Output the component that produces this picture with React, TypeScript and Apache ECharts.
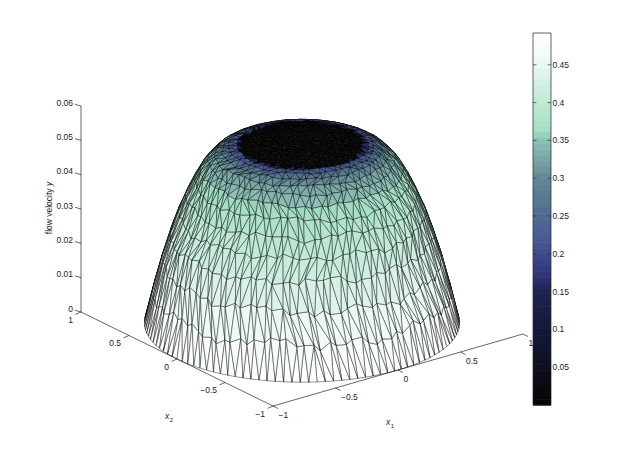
import React, { useEffect, useRef } from "react";
import * as echarts from "echarts";

const ringRadius = [1, 0.945, 0.89, 0.835, 0.785, 0.735, 0.685, 0.64, 0.595, 0.55, 0.505, 0.46, 0.415, 0.37, 0.32, 0.26, 0.2, 0.14, 0.08, 0];
const ringHeight = [0, 0.0098, 0.0186, 0.0262, 0.0322, 0.0372, 0.0416, 0.045, 0.0475, 0.0494, 0.0506, 0.0514, 0.0518, 0.0518, 0.0518, 0.0518, 0.0518, 0.0518, 0.0518, 0.0518];
const ringValue = [0.492, 0.468, 0.444, 0.425, 0.408, 0.39, 0.372, 0.355, 0.338, 0.318, 0.29, 0.235, 0.215, 0.003, 0.003, 0.003, 0.003, 0.003, 0.003, 0.003];
const ringNodes = [118, 112, 105, 99, 93, 87, 81, 76, 70, 65, 60, 54, 49, 44, 38, 31, 24, 16, 9, 1];
const capRadius = 0.4;
const radialWobble = [0.4, -0.7, 0.9, 0.1, -0.5, 0.8, -1, 0.3, 0.6, -0.2, -0.9, 0.5, 1, -0.4, 0.2, -0.8, 0.7, -0.1, -0.6, 0.9, 0.2, -1, 0.5, -0.3, 0.8, -0.7, 0.1, 0.6, -0.5, 1, -0.2, 0.3, -0.9, 0.7, -0.4, 0.4, -0.6];
const angleWobble = [0.2, -0.3, 0.35, -0.1, 0.15, -0.35, 0.3, 0.05, -0.25, 0.4, -0.15, 0.1, -0.4, 0.25, -0.05, 0.3, -0.2, 0.35, -0.3];

const colorStops: [number, string][] = [
  [0, "#050505"], [0.05, "#0e0f1e"], [0.1, "#15173a"], [0.15, "#1f2350"], [0.179, "#343a80"],
  [0.2, "#3f4a8a"], [0.22, "#4a5a96"], [0.25, "#506a92"], [0.27, "#567892"], [0.3, "#618795"],
  [0.32, "#759fa2"], [0.35, "#8cbfb5"], [0.364, "#a3e0c5"], [0.4, "#bfe9d5"], [0.42, "#cdeee0"],
  [0.45, "#eaf8f2"], [0.492, "#ffffff"],
];

const x1Ticks = [-1, -0.5, 0, 0.5, 1];
const x1Labels = ["\u22121", "\u22120.5", "0", "0.5", "1"];
const x2Ticks = [-1, -0.5, 0, 0.5, 1];
const x2Labels = ["\u22121", "\u22120.5", "0", "0.5", "1"];
const zTicks = [0, 0.01, 0.02, 0.03, 0.04, 0.05, 0.06];
const zLabels = ["0", "0.01", "0.02", "0.03", "0.04", "0.05", "0.06"];
const barTicks = [0.05, 0.1, 0.15, 0.2, 0.25, 0.3, 0.35, 0.4, 0.45];
const barLabels = ["0.05", "0.1", "0.15", "0.2", "0.25", "0.3", "0.35", "0.4", "0.45"];
const barMax = 0.492;
const barBands = 64;

function project(x1: number, x2: number, z: number): [number, number] {
  return [302 + 125 * x1 - 96 * x2, 323 - 36 * x1 - 47 * x2 - (z / 0.06) * 206];
}

function hex(c: string) {
  return [1, 3, 5].map((i) => parseInt(c.slice(i, i + 2), 16));
}
function colorOf(v: number) {
  for (let i = 1; i < colorStops.length; i++) {
    if (v <= colorStops[i][0]) {
      const [a, ca] = colorStops[i - 1];
      const [b, cb] = colorStops[i];
      const t = (v - a) / (b - a);
      const A = hex(ca);
      const B = hex(cb);
      return `rgb(${A.map((q, k) => Math.round(q + (B[k] - q) * t)).join(",")})`;
    }
  }
  return "#ffffff";
}

type Node = { x1: number; x2: number; z: number; r: number; a: number };

function lookup(r: number, table: number[]) {
  for (let i = 1; i < ringRadius.length; i++) {
    if (r >= ringRadius[i]) {
      const t = (r - ringRadius[i]) / (ringRadius[i - 1] - ringRadius[i]);
      return table[i] + (table[i - 1] - table[i]) * t;
    }
  }
  return table[table.length - 1];
}
function ringValueAt(r: number) {
  return r < capRadius ? 0.003 : lookup(r, ringValue);
}
function wobbleAt(pos: number) {
  const L = radialWobble.length;
  const f = Math.floor(pos);
  const t = pos - f;
  return radialWobble[f % L] * (1 - t) + radialWobble[(f + 1) % L] * t;
}

const rings: Node[][] = ringRadius.map((R, k) => {
  const n = ringNodes[k];
  const step = (2 * Math.PI) / n;
  const out: Node[] = [];
  let w = k * 5;
  for (let i = 0; i < n; i++) {
    const inner = k > 0 && n > 1;
    const broad = wobbleAt(i / 4.5 + k * 7) * 0.009;
    const fine = radialWobble[(i + k * 11) % radialWobble.length] * 0.006;
    const dr = inner ? broad + fine : 0;
    const da = inner ? angleWobble[(w++) % angleWobble.length] * 0.55 * step : 0;
    const r = Math.max(0, R + dr);
    const a = i * step + da + k * 0.37;
    out.push({ x1: r * Math.cos(a), x2: r * Math.sin(a), z: lookup(r, ringHeight), r, a });
  }
  return out;
});

function triangulate() {
  const tris: number[][] = [];
  const add = (a: Node, b: Node, c: Node) => {
    const rm = (a.r + b.r + c.r) / 3;
    tris.push([a.x1, a.x2, a.z, b.x1, b.x2, b.z, c.x1, c.x2, c.z, ringValueAt(rm)]);
  };
  for (let k = 0; k + 1 < rings.length; k++) {
    const A = rings[k];
    const B = rings[k + 1];
    let i = 0;
    let j = 0;
    const na = A.length;
    const nb = B.length;
    let off = 0;
    let best = Infinity;
    for (let q = 0; q < nb; q++) {
      const d = Math.hypot(B[q].x1 - A[0].x1, B[q].x2 - A[0].x2);
      if (d < best) { best = d; off = q; }
    }
    while (i < na || j < nb) {
      const a0 = A[i % na];
      const b0 = B[(off + j) % nb];
      if (j >= nb || (i < na && (i + 1) / na < (j + 1) / nb)) {
        add(a0, A[(i + 1) % na], b0);
        i++;
      } else {
        add(a0, B[(off + j + 1) % nb], b0);
        j++;
      }
    }
  }
  const depth = (t: number[]) => {
    let d = 0;
    for (const o of [0, 3, 6]) {
      d += (-(36 * t[o] + 47 * t[o + 1]) / 59.2) * 0.927 + t[o + 2] * 23.5 * 0.376;
    }
    return d;
  };
  return tris.sort((p, q) => depth(p) - depth(q));
}
const triangles = triangulate();

const bandData = Array.from({ length: barBands }, (_, i) => [i, (i * barMax) / barBands, ((i + 1) * barMax) / barBands]);

const FONT = "Liberation Sans, Arial, sans-serif";
const TEXT = { fontFamily: FONT, fontSize: 8.5, fill: "#222" };

function axisData() {
  const ticks: number[][] = [];
  zTicks.forEach((z, i) => ticks.push([0, -1, 1, z, i]));
  x2Ticks.forEach((v, i) => ticks.push([1, -1, v, 0, i]));
  x1Ticks.forEach((v, i) => ticks.push([2, v, -1, 0, i]));
  return ticks;
}

export default function App() {
  const ref = useRef<HTMLDivElement>(null);
  useEffect(() => {
    document.body.style.margin = "0";
    const chart = echarts.init(ref.current!, undefined, { renderer: "svg" });
    const lineStyle = { stroke: "#000", lineWidth: 0.6 };
    const italic = { ...TEXT, fontStyle: "italic" };
    chart.setOption({
      animation: false,
      backgroundColor: "#fff",
      grid: [
        { left: 0, top: 0, right: 0, bottom: 0, show: false },
        { left: 533, top: 33, width: 18, height: 372, show: false },
      ],
      xAxis: [
        { type: "value", min: 0, max: 623, show: false, gridIndex: 0 },
        { type: "value", min: 0, max: 1, show: false, gridIndex: 1 },
      ],
      yAxis: [
        { type: "value", min: 0, max: 457, inverse: true, show: false, gridIndex: 0 },
        {
          type: "value", min: 0, max: barMax, interval: 0.05, gridIndex: 1, position: "right",
          splitLine: { show: false },
          axisLine: { show: false },
          axisTick: { show: false },
          axisLabel: {
            show: true, margin: 1.5, fontSize: 8.5, color: "#222", fontFamily: FONT,
            showMinLabel: false, showMaxLabel: false,
            formatter: (v: number) => { const s = String(+v.toFixed(2)); return barLabels.includes(s) ? s : ""; },
          },
        },
      ],
      series: [
        {
          type: "custom", coordinateSystem: "cartesian2d", xAxisIndex: 0, yAxisIndex: 0, silent: true, clip: false,
          data: triangles,
          renderItem: (_: any, api: any) => ({
            type: "polygon",
            shape: { points: [0, 3, 6].map((o) => api.coord(project(api.value(o), api.value(o + 1), api.value(o + 2)))) },
            style: { fill: colorOf(api.value(9)), stroke: "#000", lineWidth: 0.42 },
          }),
        },
        {
          type: "custom", coordinateSystem: "cartesian2d", xAxisIndex: 0, yAxisIndex: 0, silent: true, clip: false,
          data: axisData(),
          renderItem: (_: any, api: any) => {
            const kind = api.value(0);
            const idx = api.value(4);
            const p = api.coord(project(api.value(1), api.value(2), api.value(3)));
            const tick = kind === 0 ? [-6, -1.7] : kind === 1 ? [-5.5, 2.4] : [5, 2.5];
            const off = kind === 0 ? [-8, -3.5] : kind === 1 ? [-8, 7.5] : [5.5, 9];
            const label = kind === 0 ? zLabels[idx] : kind === 1 ? x2Labels[idx] : x1Labels[idx];
            return {
              type: "group",
              children: [
                { type: "line", shape: { x1: p[0], y1: p[1], x2: p[0] + tick[0], y2: p[1] + tick[1] }, style: lineStyle },
                {
                  type: "text", x: p[0] + off[0], y: p[1] + off[1],
                  style: { ...TEXT, text: label, align: kind === 2 ? "left" : "right", verticalAlign: "middle" },
                },
              ],
            };
          },
        },
        {
          type: "custom", coordinateSystem: "cartesian2d", xAxisIndex: 0, yAxisIndex: 0, silent: true, clip: false,
          data: [[-1, 1, 0, -1, 1, 0.06], [-1, 1, 0, -1, -1, 0], [-1, -1, 0, 1, -1, 0]],
          renderItem: (_: any, api: any) => {
            const a = api.coord(project(api.value(0), api.value(1), api.value(2)));
            const b = api.coord(project(api.value(3), api.value(4), api.value(5)));
            return { type: "line", shape: { x1: a[0], y1: a[1], x2: b[0], y2: b[1] }, style: lineStyle };
          },
        },
        {
          type: "custom", coordinateSystem: "cartesian2d", xAxisIndex: 1, yAxisIndex: 1, silent: true, clip: false,
          data: bandData,
          encode: { x: 0, y: 1 },
          renderItem: (_: any, api: any) => {
            const i = api.value(0);
            const a = api.coord([0, api.value(1)]);
            const b = api.coord([1, api.value(2)]);
            return {
              type: "rect",
              shape: { x: a[0], y: b[1], width: b[0] - a[0], height: a[1] - b[1] + 0.6 },
              style: { fill: colorOf(((i + 0.5) * barMax) / barBands) },
            };
          },
        },
        {
          type: "custom", coordinateSystem: "cartesian2d", xAxisIndex: 1, yAxisIndex: 1, silent: true, clip: false,
          data: barTicks.map((v) => [0, v]),
          renderItem: (_: any, api: any) => {
            const a = api.coord([0, api.value(1)]);
            const b = api.coord([1, api.value(1)]);
            return {
              type: "group",
              children: [
                { type: "line", shape: { x1: a[0], y1: a[1], x2: a[0] + 3.5, y2: a[1] }, style: { stroke: "#222", lineWidth: 0.6 } },
                { type: "line", shape: { x1: b[0], y1: b[1], x2: b[0] - 3.5, y2: b[1] }, style: { stroke: "#222", lineWidth: 0.6 } },
              ],
            };
          },
        },
        {
          type: "custom", coordinateSystem: "cartesian2d", xAxisIndex: 1, yAxisIndex: 1, silent: true, clip: false,
          data: [[0, 0]],
          renderItem: (_: any, api: any) => {
            const a = api.coord([0, 0]);
            const b = api.coord([1, barMax]);
            return {
              type: "rect",
              shape: { x: a[0], y: b[1], width: b[0] - a[0], height: a[1] - b[1] },
              style: { fill: "none", stroke: "#222", lineWidth: 0.7 },
            };
          },
        },
      ],
      graphic: [
        {
          type: "text", x: 49, y: 208, rotation: Math.PI / 2, silent: true,
          style: { ...TEXT, text: "flow velocity {i|y}", rich: { i: { fontStyle: "italic", fontFamily: FONT, fontSize: 8.5, fill: "#222" } }, align: "center", verticalAlign: "middle" },
        },
        { type: "text", x: 388, y: 421.5, silent: true, style: { ...italic, text: "x", align: "center", verticalAlign: "middle" } },
        { type: "text", x: 392.5, y: 426, silent: true, style: { ...TEXT, fontSize: 6, text: "1", align: "center", verticalAlign: "middle" } },
        { type: "text", x: 167, y: 415.5, silent: true, style: { ...italic, text: "x", align: "center", verticalAlign: "middle" } },
        { type: "text", x: 171.5, y: 420, silent: true, style: { ...TEXT, fontSize: 6, text: "2", align: "center", verticalAlign: "middle" } },
      ],
    });
    return () => chart.dispose();
  }, []);
  return <div ref={ref} style={{ width: 623, height: 457 }} />;
}
